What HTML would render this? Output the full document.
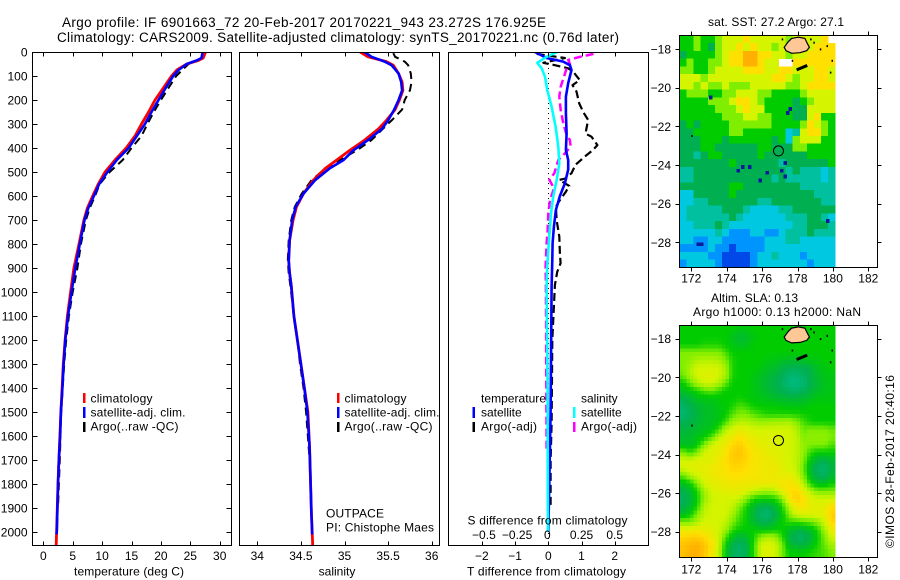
<!DOCTYPE html>
<html lang="en">
<head>
<meta charset="utf-8">
<title>Argo profile 6901663_72</title>
<style>
html,body{margin:0;padding:0;background:#fff;}
svg{display:block;}
text{font-family:"Liberation Sans",sans-serif;font-size:12px;fill:#000;}
</style>
</head>
<body>
<svg id="fig" xmlns="http://www.w3.org/2000/svg" width="900" height="580" viewBox="0 0 900 580">
  <rect x="0" y="0" width="900" height="580" fill="#fff"/>
  <defs>
    <clipPath id="clip-temp"><rect x="33" y="52" width="198" height="493"/></clipPath>
    <clipPath id="clip-sal"><rect x="240" y="52" width="199" height="493"/></clipPath>
    <clipPath id="clip-diff"><rect x="449" y="52" width="199" height="493"/></clipPath>
    <clipPath id="clip-sst"><rect x="680" y="36" width="197" height="231"/></clipPath>
    <clipPath id="clip-sla"><rect x="680" y="326" width="197" height="231"/></clipPath>
  </defs>
  <text x="62" y="27" style="font-size:13.5px" textLength="484">Argo profile: IF 6901663_72 20-Feb-2017 20170221_943 23.272S 176.925E</text>
  <text x="57" y="42" style="font-size:13.5px" textLength="562">Climatology: CARS2009. Satellite-adjusted climatology: synTS_20170221.nc (0.76d later)</text>
  <text x="708" y="26" textLength="136">sat. SST: 27.2 Argo: 27.1</text>
  <text x="711" y="302" textLength="87">Altim. SLA: 0.13</text>
  <text x="693" y="316" textLength="168">Argo h1000: 0.13 h2000: NaN</text>
  <text transform="translate(894,548) rotate(-90)" textLength="173">©IMOS 28-Feb-2017 20:40:16</text>
  <g id="layer-temp"></g>
  <g id="layer-sal"></g>
  <g id="layer-diff"></g>
  <g id="layer-sst"></g>
  <g id="layer-sla"></g>
  <g>
    <rect x="83" y="393" width="2.5" height="10" fill="#f00"/>
    <rect x="83" y="407" width="2.5" height="11" fill="#00f"/>
    <rect x="83" y="422" width="2.5" height="10" fill="#000"/>
    <text x="90.5" y="402.5" textLength="62">climatology</text>
    <text x="90.5" y="416.5" textLength="95">satellite-adj. clim.</text>
    <text x="90.5" y="430.5" textLength="88">Argo(..raw -QC)</text>
  </g>
  <g>
    <rect x="337" y="393" width="2.5" height="10" fill="#f00"/>
    <rect x="337" y="407" width="2.5" height="11" fill="#00f"/>
    <rect x="337" y="422" width="2.5" height="10" fill="#000"/>
    <text x="344.5" y="402.5" textLength="62">climatology</text>
    <text x="344.5" y="416.5" textLength="95">satellite-adj. clim.</text>
    <text x="344.5" y="430.5" textLength="88">Argo(..raw -QC)</text>
    <text x="326" y="517.5" textLength="58">OUTPACE</text>
    <text x="326" y="531.5" textLength="108">PI: Chistophe Maes</text>
  </g>
  <g>
    <text x="481" y="402.5" textLength="65">temperature</text>
    <text x="581" y="402.5">salinity</text>
    <rect x="472.5" y="407" width="2.5" height="11" fill="#00f"/>
    <rect x="472.5" y="422" width="2.5" height="10" fill="#000"/>
    <rect x="573" y="407" width="2.5" height="11" fill="#0ff"/>
    <rect x="573" y="422" width="2.5" height="10" fill="#f0f"/>
    <text x="481" y="416.5">satellite</text>
    <text x="481" y="430.5" textLength="56">Argo(-adj)</text>
    <text x="581" y="416.5">satellite</text>
    <text x="581" y="430.5" textLength="56">Argo(-adj)</text>
  </g>
</svg>
<script>
// ---- profile data ----
const depthTicks = [0,100,200,300,400,500,600,700,800,900,1000,1100,1200,1300,1400,1500,1600,1700,1800,1900,2000];
const tempTicks = [0,5,10,15,20,25,30];
const salTicks = [34,34.5,35,35.5,36];
const salTickLabels = ['34','34.5','35','35.5','36'];
const dTTicks = [-2,-1,0,1,2];
const dTTickLabels = ['−2','−1','0','1','2'];
const dSTicks = [-0.5,-0.25,0,0.25,0.5];
const dSTickLabels = ['−0.5','−0.25','0','0.25','0.5'];

const tempClimDepth = [0,25,35,50,75,100,150,200,250,300,350,400,450,500,550,600,650,700,800,900,1000,1100,1200,1300,1400,1500,1600,1700,1800,1900,2000,2054];
const tempClim = [27.6,27.2,26.4,24.4,22.7,21.8,20.4,19.0,17.9,16.7,15.6,14.1,12.2,10.5,9.35,8.4,7.5,6.9,6.07,5.2,4.65,4.1,3.7,3.4,3.2,3.0,2.83,2.66,2.5,2.38,2.27,2.2];
const tempSatDepth = [0,25,35,50,75,100,150,200,250,300,350,400,450,500,550,600,650,700,800,900,1000,1100,1200,1300,1400,1500,1600,1700,1800,1900,2000,2010];
const tempSat = [27.1,26.9,26.1,24.4,23,22.1,20.8,19.6,18.4,17.3,15.9,14.5,12.5,10.9,9.5,8.6,7.65,7.0,6.2,5.45,4.8,4.2,3.75,3.45,3.25,3.0,2.85,2.65,2.5,2.4,2.3,2.25];
const tempArgoDepth = [25,50,100,150,200,250,300,350,400,450,500,550,600,650,700,800,900,1000,1100,1200,1300,1400,1500,1600,1700,1800,1900];
const tempArgo = [27,24.7,22.6,21.3,20,18.8,17.7,16.7,15,13.5,11.3,9.6,8.8,7.9,7.25,6.4,5.8,5,4.35,3.9,3.55,3.3,3.05,2.92,2.8,2.65,2.5];

const salClimDepth = [0,20,40,55,90,125,160,200,240,285,320,367,410,450,485,535,590,645,700,785,870,920,975,1100,1200,1300,1400,1500,1650,1785,1920,2054];
const salClim = [35.18,35.27,35.48,35.56,35.62,35.66,35.67,35.63,35.58,35.48,35.39,35.23,35.06,34.91,34.78,34.64,34.53,34.45,34.41,34.37,34.36,34.37,34.39,34.42,34.46,34.5,34.54,34.58,34.6,34.61,34.62,34.635];
const salSatDepth = [0,20,40,55,90,125,160,200,240,285,320,367,410,450,485,535,590,645,700,785,870,920,975,1100,1200,1300,1400,1500,1650,1785,1920,2010];
const salSat = [35.23,35.31,35.46,35.54,35.62,35.65,35.66,35.62,35.57,35.5,35.43,35.27,35.1,34.99,34.83,34.66,34.53,34.44,34.4,34.37,34.36,34.37,34.39,34.42,34.46,34.5,34.54,34.575,34.6,34.61,34.62,34.63];
const salArgoDepth = [5,20,40,55,90,125,160,200,240,285,320,367,410,450,485,535,590,645,700,785,870,920,975,1100,1200,1300,1400,1500,1700];
const salArgo = [35.56,35.58,35.69,35.73,35.76,35.77,35.75,35.69,35.66,35.54,35.44,35.31,35.14,34.95,34.78,34.62,34.51,34.43,34.39,34.36,34.35,34.36,34.38,34.42,34.46,34.49,34.53,34.56,34.6];

const dTSatDepth = [0,25,40,55,75,130,186,255,340,408,450,490,547,600,658,728,797,867,978,1500,1800,2000];
const dTSat = [-0.4,-0.05,0.45,0.65,0.7,0.6,0.53,0.53,0.55,0.53,0.6,0.6,0.5,0.35,0.23,0.17,0.13,0.12,0.1,0.07,0.03,0.0];
const dTArgoDepth = [8,25,45,55,68,82,117,138,165,214,250,283,340,353,388,408,436,470,505,528,533,558,582,617,644,700,769,839,880,915,971,1200,1550,1700,1900];
const dTArgo = [-0.35,0.5,-0.15,0.2,0.6,0.75,0.95,0.73,0.85,0.93,1.05,1.2,1.12,1.3,1.48,1.35,1.1,0.82,0.7,0.5,0.33,0.63,0.53,0.35,0.23,0.25,0.33,0.35,0.37,0.27,0.2,0.12,0.1,0.07,0.07];
const dSSatDepth = [0,20,45,68,103,158,228,311,394,464,533,600,672,783,894,978,1400,2000];
const dSSat = [0.068,-0.013,-0.083,-0.05,-0.025,-0.008,0.025,0.055,0.075,0.083,0.063,0.038,0.02,0.005,-0.008,-0.013,-0.005,-0.003];
const dSArgoDepth = [8,20,33,50,68,103,144,186,242,297,346,367,394,422,450,505,533,568,617,672,742,797,894,978,1670];
const dSArgo = [0.34,0.24,0.15,0.163,0.138,0.118,0.093,0.083,0.093,0.113,0.138,0.163,0.168,0.126,0.075,0.045,0.008,0.043,0.013,0,-0.005,-0.013,-0.02,-0.018,-0.013];

// ---- map data: 22 columns x 30 rows, colour-scale levels (-1 = no data) ----
const lonTicks = [172,174,176,178,180,182];
const latTicks = [-18,-20,-22,-24,-26,-28];
const sstLevels = [
[6,6,7,6,6,7,8,8,8,9,8,8,8,8,8,7,8,8,8,8,9,-1],
[6,6,7,6,5,7,8,8,9,8,9,8,8,7,8,7,8,8,8,9,9,9],
[5,6,6,6,6,7,8,9,9,10,10,9,9,8,8,7,8,8,9,9,9,9],
[6,7,6,6,7,7,8,9,9,10,10,9,8,8,-1,-1,9,9,9,9,9,9],
[7,7,6,6,7,8,8,8,8,9,9,9,8,8,9,9,8,8,8,9,9,8],
[8,8,8,7,8,8,8,8,8,8,8,8,8,9,9,8,7,8,8,9,9,8],
[8,8,7,8,7,7,8,7,7,7,8,8,8,8,8,7,7,8,9,9,9,9],
[6,7,7,7,6,6,7,7,8,8,8,7,7,6,6,6,6,7,8,8,8,8],
[6,6,6,6,7,7,7,8,9,9,8,7,6,6,6,6,5,6,7,8,8,8],
[6,6,6,6,6,7,7,7,8,9,8,8,6,6,6,6,5,5,8,8,8,8],
[6,6,6,6,6,6,7,7,7,8,8,7,7,6,6,6,5,5,8,9,6,6],
[5,6,5,6,6,6,6,7,7,7,7,7,7,6,6,6,6,7,9,8,7,6],
[5,5,6,6,6,6,6,7,7,6,6,6,6,6,6,3,4,8,9,9,7,6],
[5,5,5,6,6,6,5,6,6,6,6,6,6,5,6,3,7,8,8,8,6,6],
[5,5,5,6,6,5,5,5,5,5,5,6,6,5,5,5,7,7,6,6,6,6],
[5,5,4,5,6,6,5,5,5,5,5,6,5,5,5,5,5,5,6,6,6,6],
[5,5,5,5,5,5,5,6,5,5,5,5,5,5,4,5,5,5,5,5,5,6],
[4,4,5,5,5,5,5,5,5,5,5,5,5,5,5,4,5,4,4,4,3,4],
[4,4,5,5,5,5,5,5,5,5,5,5,5,4,5,4,4,4,4,4,3,4],
[5,5,5,5,5,5,5,6,6,5,5,5,5,5,5,5,5,4,4,4,4,4],
[3,3,5,5,5,5,5,6,5,5,5,5,5,5,5,5,5,5,5,4,4,4],
[3,3,4,4,5,5,5,5,5,5,5,4,4,5,5,5,5,5,5,5,4,4],
[3,4,4,4,4,4,5,5,5,4,3,3,3,3,4,4,5,5,5,5,5,5],
[3,4,4,4,4,4,4,5,4,3,3,3,3,3,3,4,4,4,5,5,4,3],
[3,3,4,4,4,5,4,3,3,3,3,3,3,3,3,3,4,4,5,5,5,4],
[3,3,3,3,3,4,3,2,2,2,3,3,2,2,3,4,4,4,5,4,4,4],
[3,3,2,2,3,3,2,2,2,2,2,2,3,3,3,4,4,3,3,3,3,3],
[2,2,2,2,3,2,2,1,2,2,2,2,3,3,3,3,3,3,3,3,3,3],
[3,3,3,3,2,2,1,1,1,1,2,3,3,4,3,3,3,2,3,3,3,3],
[2,3,3,3,3,2,1,1,1,1,2,3,3,3,3,3,3,3,2,3,3,3]
];
const sstOutlierLon = [173,174.8,174.55,175.2,177.2,177,177.2,176.2,175.8,179.6,172.3,172.5,177.5,177.35];
const sstOutlierLat = [-20.4,-24,-24.2,-24,-23.8,-24.2,-24.5,-24.3,-24.7,-26.8,-28,-28,-21,-21.2];
const slaLevels = [
[6,6,6,6,6,6,6,6,5.8,5.8,6,6,6,6,6,6,6,6,6,6,6,6],
[6,6,6,6,6,6,6,5.6,5.4,5.5,5.8,6,6,6,6,6,6,6,6,6,6,6],
[6,6,6,6.2,6.2,6.2,6,5.8,5.6,5.6,6,6,6,6,6,6,6,6,6,6,6,6],
[7,7,7,7,7,7,6.5,6,6,6,6,6,6,6,6,6,6,6,6,6,6,6],
[7,7.2,7.5,7.6,7.6,7.5,7,6.2,6,6,6,6,5.8,5.8,5.6,5.5,5.5,5.6,5.8,5.8,6,6],
[7,7.5,8,8,8,8,7.4,6.2,6,6,6,5.8,5.6,5.5,5.2,5,5,5,5.2,5.6,5.8,6],
[6.8,7.5,8,8.2,8.2,8,7.5,6.2,6,6,5.8,5.6,5.4,5.2,5,4.6,4.6,4.8,5.1,5.5,5.7,5.8],
[6,6.8,7.5,8,8,7.6,6.8,6,6,6,5.8,5.5,5.3,5.1,4.8,4.5,4.4,4.6,5,5.4,5.6,5.8],
[5.6,5.8,6.2,6.6,6.8,6.4,6,6,6,6,5.8,5.6,5.4,5.2,5,4.8,4.7,4.9,5.2,5.5,5.7,5.8],
[5,5.3,5.6,5.8,5.8,5.9,6,6,6.1,6,5.8,5.8,5.6,5.5,5.4,5.3,5.3,5.4,5.6,5.8,5.8,5.8],
[4.7,5,5.3,5.5,5.6,5.8,5.9,6.2,6.6,6.4,6.1,6,6,6,5.9,5.8,5.8,5.8,6,6,6,6],
[4.6,4.9,5.2,5.5,5.6,5.7,6,6.6,7,7,6.6,6.4,6.2,6.2,6.2,6.2,6.2,6.1,6,6,6,6],
[4.9,5.1,5.3,5.5,5.6,5.8,6.4,7.3,7.6,7.6,7.4,7.2,7.3,7.4,7.4,7.5,7,6.5,6.1,6,6,6],
[5.2,5.3,5.5,5.6,5.8,6.4,7.6,8,8.4,8.2,8,8,8,8,8,8,7.6,6.8,7,7,7,6.8],
[5.4,5.5,5.7,6,6.6,7.6,8.2,8.6,9,8.7,8.4,8.2,8.2,8.2,8,8,7.8,7,7.2,7.2,7.2,7],
[5.6,5.5,5.9,7,8,8.3,8.6,9.2,9.4,9,8.6,8.4,8.3,8.2,8,8,7.8,7.2,7,7,7,6.6],
[7,6.4,7,8,8.2,8.4,8.8,9.4,9.6,9.2,8.8,8.6,8.4,8.2,8.2,8,7.8,7.2,6.4,6,6,6],
[8,8,8.2,8.2,8.3,8.6,9,9.4,9.4,9.2,8.8,8.7,8.6,8.4,8.2,8,7.8,7,5.8,5.2,5,5.4],
[8,8.2,8.3,8.4,8.6,8.7,8.9,9.2,9.2,9,8.8,8.7,8.6,8.6,8.3,8.1,7.8,6.8,5.4,4.8,4.7,5.2],
[6.8,7.6,8,8.3,8.5,8.7,8.8,9,9,8.8,8.8,8.7,8.6,8.6,8.4,8.4,8,7,5.6,4.9,4.8,5.3],
[5.6,6,7,8,8.3,8.4,8.6,8.6,8.6,8.6,8.6,8.6,8.6,8.6,8.8,8.9,8.6,7.6,6.2,5.6,5.6,6],
[5,5.4,6.2,7.4,8,8.2,8.3,8.4,8.4,8.2,7.8,7.5,7.4,7.6,8.4,9,9.2,8.4,7.6,7,7,7],
[4.8,5.2,6,7.2,7.9,8,8,8,7.8,7,6.2,6,6,6.2,7,8.6,9.4,9,8.2,8,8,8],
[5,5.4,6.2,7.6,8,8,8,7.8,7,6.2,5.4,5,5,5.4,6.2,7.6,8.8,8.8,8.4,8.2,8.4,9],
[5.6,6,7,7.8,8,8,8,7.4,6.6,6,5.2,4.7,4.6,5,5.8,7,8,8.2,8.2,8.2,8.4,9.4],
[7,7,7.5,8,8,8,7.8,7,6.4,6,5.4,5,5,5.4,6,6.4,6.4,6.6,6.8,7.2,8,9.2],
[8.5,8.5,8.6,8.5,8.2,8,7.4,6.4,6,6,6,5.8,5.8,6,6,5.6,5.2,5.2,5.6,6.2,7.4,8.5],
[9.2,9.4,9.4,9.2,8.6,8,6.6,5.6,5.2,5.4,6.2,7.2,7.6,7.4,6.4,5.2,4.8,4.8,5.2,6,7,8],
[9.6,9.8,10,9.6,9,8,6,5,4.8,5,6.4,8,8.2,8,7,5.6,5.2,5.2,5.6,6.2,6.8,7.4],
[9.6,10,10,9.6,8.8,7.8,5.8,4.9,4.7,5,6.4,8,8.2,8,7,6,6,6,6.2,6.4,6.6,7]
];
const landLon = [177.25,177.48,177.67,178.05,178.42,178.55,178.67,178.52,178.14,177.67,177.35];
const landLat = [-17.91,-17.62,-17.45,-17.39,-17.45,-17.7,-17.91,-18.09,-18.19,-18.22,-18.09];
const speckLon = [177.11,178.89,179.26,179.64,179.92,179.83,177.67,178.71,172.0];
const speckLat = [-17.45,-17.62,-17.97,-17.8,-18.56,-19.17,-18.56,-17.45,-22.45];
const floatLon = 176.925;
const floatLat = -23.272;

// ---- helpers ----
const NS = 'http://www.w3.org/2000/svg';
function mk(parent, tag, attrs, text) {
  const e = document.createElementNS(NS, tag);
  for (const k in attrs) e.setAttribute(k, attrs[k]);
  if (text !== undefined) e.textContent = text;
  parent.appendChild(e);
  return e;
}
const colorStops = [[10,26,154],[0,72,232],[0,148,255],[0,200,224],[0,192,160],[0,176,80],[0,204,0],[128,238,0],[212,244,0],[255,224,0],[255,176,0]];
function levelColor(v) {
  const c = Math.max(0, Math.min(10, v));
  const i = Math.min(9, Math.floor(c));
  const f = c - i;
  const a = colorStops[i], b = colorStops[i + 1];
  return 'rgb(' + a.map((x, n) => Math.round(x + (b[n] - x) * f)).join(',') + ')';
}
const depthY = d => 52 + 0.24 * d;
const tempX = t => 43.3 + 5.88 * t;
const salX = s => 257.3 + 87.2 * (s - 34);
const dTX = t => 548.3 + 33.2 * t;
const dSX = s => 548.3 + 132.8 * s;

function drawProfile(parent, name, xScale, values, depths, color, width, dash, clip) {
  const pts = values.map((v, i) => xScale(v).toFixed(1) + ',' + depthY(depths[i]).toFixed(1)).join(' ');
  const attrs = {points: pts, fill: 'none', stroke: color, 'stroke-width': width, 'clip-path': 'url(#' + clip + ')', 'stroke-linejoin': 'round'};
  if (dash) attrs['stroke-dasharray'] = dash;
  const l = mk(parent, 'polyline', attrs);
  
  
}
function drawFrame(parent, x0, x1, y0, y1) {
  const f = mk(parent, 'rect', {x: x0, y: y0, width: x1 - x0, height: y1 - y0, fill: 'none', stroke: '#000', 'stroke-width': 1});
  
  
}
function drawXAxis(parent, ticks, labels, scale, y0, y1, labelY) {
  ticks.forEach((t, i) => {
    const x = Math.round(scale(t)) + 0.5;
    const a = mk(parent, 'line', {x1: x, x2: x, y1: y0, y2: y0 + 4, stroke: '#000'});
    
    
    const b = mk(parent, 'line', {x1: x, x2: x, y1: y1 - 4, y2: y1, stroke: '#000'});
    
    
    const tx = mk(parent, 'text', {x: scale(t), y: labelY, 'text-anchor': 'middle'}, labels[i]);
    
    
  });
}

// ---- temperature panel ----
const gT = document.getElementById('layer-temp');
drawProfile(gT, 'argo-temperature-line', tempX, tempArgo, tempArgoDepth, '#000', 2, '8 5', 'clip-temp');
drawProfile(gT, 'climatology-temperature-line', tempX, tempClim, tempClimDepth, '#f00', 2.8, null, 'clip-temp');
drawProfile(gT, 'satellite-temperature-line', tempX, tempSat, tempSatDepth, '#00f', 2.6, null, 'clip-temp');
drawFrame(gT, 32.5, 231.5, 52.5, 545.5);
drawXAxis(gT, tempTicks, tempTicks.map(String), tempX, 52.5, 545.5, 560);
depthTicks.forEach(d => {
  const y = Math.round(depthY(d)) + 0.5;
  const a = mk(gT, 'line', {x1: 32.5, x2: 37.5, y1: y, y2: y, stroke: '#000'});
  
  
  const b = mk(gT, 'line', {x1: 226.5, x2: 231.5, y1: y, y2: y, stroke: '#000'});
  
  
  const t = mk(gT, 'text', {x: 27.5, y: depthY(d) + 4.5, 'text-anchor': 'end'}, String(d));
  
  
});
const tl = mk(gT, 'text', {x: 74, y: 575.5, textLength: 110}, 'temperature (deg C)');



// ---- salinity panel ----
const gS = document.getElementById('layer-sal');
drawProfile(gS, 'argo-salinity-line', salX, salArgo, salArgoDepth, '#000', 2, '8 5', 'clip-sal');
drawProfile(gS, 'climatology-salinity-line', salX, salClim, salClimDepth, '#f00', 2.8, null, 'clip-sal');
drawProfile(gS, 'satellite-salinity-line', salX, salSat, salSatDepth, '#00f', 2.6, null, 'clip-sal');
drawFrame(gS, 239.5, 439.5, 52.5, 545.5);
drawXAxis(gS, salTicks, salTickLabels, salX, 52.5, 545.5, 560);
const sl = mk(gS, 'text', {x: 337, y: 575.5, 'text-anchor': 'middle'}, 'salinity');



// ---- difference panel ----
const gD = document.getElementById('layer-diff');
const zeroLine = mk(gD, 'line', {x1: 548.5, x2: 548.5, y1: 58, y2: 545, stroke: '#000', 'stroke-dasharray': '1 4'});


drawProfile(gD, 't-argo-difference-line', dTX, dTArgo, dTArgoDepth, '#000', 2.2, '8 4', 'clip-diff');
drawProfile(gD, 's-argo-difference-line', dSX, dSArgo, dSArgoDepth, '#f0f', 2.5, '8 4', 'clip-diff');
drawProfile(gD, 't-satellite-difference-line', dTX, dTSat, dTSatDepth, '#00f', 2.6, null, 'clip-diff');
drawProfile(gD, 's-satellite-difference-line', dSX, dSSat, dSSatDepth, '#0ff', 2.6, null, 'clip-diff');
drawFrame(gD, 448.5, 648.5, 52.5, 545.5);
drawXAxis(gD, dTTicks, dTTickLabels, dTX, 52.5, 545.5, 560);
dSTicks.forEach((s, i) => {
  const t = mk(gD, 'text', {x: dSX(s) - (s === 0 ? 1 : (i < 2 ? -2 : 0)), y: 539, 'text-anchor': 'middle'}, dSTickLabels[i]);
  
  
});
const st = mk(gD, 'text', {x: 467.5, y: 524.5, textLength: 160}, 'S difference from climatology');


const dt = mk(gD, 'text', {x: 467, y: 575.5, textLength: 159}, 'T difference from climatology');



// ---- maps ----
const lonStart = 171.33, latStart = -17.3, cellDeg = 0.4;
const lonX = lon => 691.3 + 17.7 * (lon - 172);
// sub = number of drawn blocks per grid cell; the smooth altimetry field is resampled bilinearly for display.
function drawMap(g, levels, latY, clip, prefix, sub) {
  const cells = mk(g, 'g', {'clip-path': 'url(#' + clip + ')', 'shape-rendering': 'crispEdges'});
  
  
  const nr = levels.length, nc = levels[0].length;
  const sample = (u, v) => {
    const cu = Math.max(0, Math.min(nc - 1, u)), cv = Math.max(0, Math.min(nr - 1, v));
    const c0 = Math.floor(cu), r0 = Math.floor(cv);
    const c1 = Math.min(nc - 1, c0 + 1), r1 = Math.min(nr - 1, r0 + 1);
    const fu = cu - c0, fv = cv - r0;
    return (levels[r0][c0] * (1 - fu) + levels[r0][c1] * fu) * (1 - fv) + (levels[r1][c0] * (1 - fu) + levels[r1][c1] * fu) * fv;
  };
  for (let r = 0; r < nr * sub; r++) {
    for (let c = 0; c < nc * sub; c++) {
      const v = sub === 1 ? levels[r][c] : sample((c + 0.5) / sub - 0.5, (r + 0.5) / sub - 0.5);
      if (v < 0) continue;
      const xa = lonX(lonStart + c * cellDeg / sub), xb = lonX(lonStart + (c + 1) * cellDeg / sub);
      const ya = latY(latStart - r * cellDeg / sub), yb = latY(latStart - (r + 1) * cellDeg / sub);
      const cell = mk(cells, 'rect', {x: xa.toFixed(2), y: ya.toFixed(2), width: (xb - xa + 0.5).toFixed(2), height: (yb - ya + 0.5).toFixed(2), fill: levelColor(v)});
      
      
    }
  }
  return cells;
}
function decorateMap(g, latY, x0, x1, y0, y1, labelY, clip) {
  const land = mk(g, 'polygon', {points: landLon.map((lo, i) => lonX(lo).toFixed(1) + ',' + latY(landLat[i]).toFixed(1)).join(' '), fill: '#fdc896', stroke: '#000', 'stroke-width': 1.2, 'clip-path': 'url(#' + clip + ')'});
  
  
  const kadavu = mk(g, 'line', {x1: lonX(177.95), y1: latY(-19.08), x2: lonX(178.55), y2: latY(-18.85), stroke: '#000', 'stroke-width': 3});
  
  
  speckLon.forEach((lo, i) => {
    const s = mk(g, 'rect', {x: lonX(lo).toFixed(1), y: latY(speckLat[i]).toFixed(1), width: 1.5, height: 2, fill: '#000'});
    
    
  });
  const circ = mk(g, 'circle', {cx: lonX(floatLon), cy: latY(floatLat), r: 5, fill: 'none', stroke: '#000', 'stroke-width': 1});
  
  
  drawFrame(g, x0, x1, y0, y1);
  lonTicks.forEach(lo => {
    const x = Math.round(lonX(lo)) + 0.5;
    const a = mk(g, 'line', {x1: x, x2: x, y1: y0 - 4, y2: y0, stroke: '#000'});
    
    
    const b = mk(g, 'line', {x1: x, x2: x, y1: y1, y2: y1 + 4, stroke: '#000'});
    
    
    const t = mk(g, 'text', {x: lonX(lo), y: labelY, 'text-anchor': 'middle'}, String(lo));
    
    
  });
  latTicks.forEach(la => {
    const y = Math.round(latY(la)) + 0.5;
    const a = mk(g, 'line', {x1: x0 - 4, x2: x0, y1: y, y2: y, stroke: '#000'});
    
    
    const b = mk(g, 'line', {x1: x1, x2: x1 + 4, y1: y, y2: y, stroke: '#000'});
    
    
    const t = mk(g, 'text', {x: 671, y: latY(la) + 4.5, 'text-anchor': 'end'}, '−' + Math.abs(la));
    
    
  });
}

const sstLatY = lat => 49 + 19.33 * (-18 - lat);
const slaLatY = lat => 338.7 + 19.3 * (-18 - lat);
const gSST = document.getElementById('layer-sst');
const sstCells = drawMap(gSST, sstLevels, sstLatY, 'clip-sst', 'sst', 1);
sstOutlierLon.forEach((lo, i) => {
  const o = mk(sstCells, 'rect', {x: lonX(lo).toFixed(1), y: sstLatY(sstOutlierLat[i]).toFixed(1), width: 3.6, height: 3.9, fill: levelColor(0)});
  
  
});
decorateMap(gSST, sstLatY, 679.5, 877.5, 35.5, 267.5, 282.5, 'clip-sst');
const gSLA = document.getElementById('layer-sla');
drawMap(gSLA, slaLevels, slaLatY, 'clip-sla', 'sla', 2);
decorateMap(gSLA, slaLatY, 679.5, 877.5, 325.5, 557.5, 573.5, 'clip-sla');
</script>
</body>
</html>
